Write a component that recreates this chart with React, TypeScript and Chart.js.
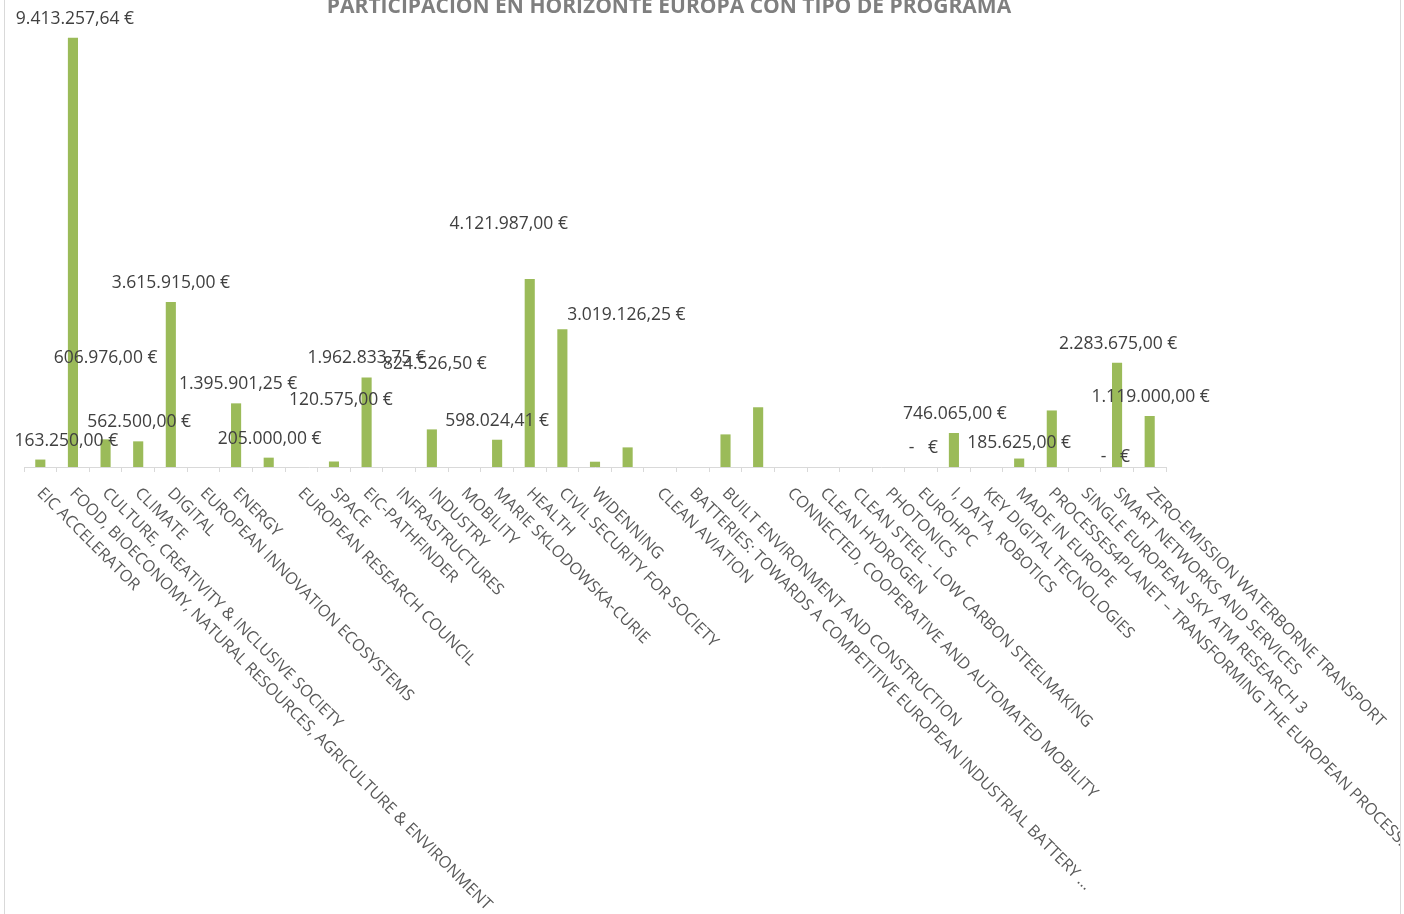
import React, { useEffect, useRef } from "react";
import { Chart, registerables } from "chart.js";
Chart.register(...registerables);

const TITLE = "PARTICIPACIÓN EN HORIZONTE EUROPA CON TIPO DE PROGRAMA";

const categories: string[] = [
  "EIC ACCELERATOR",
  "FOOD, BIOECONOMY, NATURAL RESOURCES, AGRICULTURE & ENVIRONMENT",
  "CULTURE, CREATIVITY & INCLUSIVE SOCIETY",
  "CLIMATE",
  "DIGITAL",
  "EUROPEAN INNOVATION ECOSYSTEMS",
  "ENERGY",
  "",
  "EUROPEAN RESEARCH COUNCIL",
  "SPACE",
  "EIC-PATHFINDER",
  "INFRASTRUCTURES",
  "INDUSTRY",
  "MOBILITY",
  "MARIE SKLODOWSKA-CURIE",
  "HEALTH",
  "CIVIL SECURITY FOR SOCIETY",
  "WIDENNING",
  "",
  "CLEAN AVIATION",
  "BATTERIES: TOWARDS A COMPETITIVE EUROPEAN INDUSTRIAL BATTERY ...",
  "BUILT ENVIRONMENT AND CONSTRUCTION",
  "",
  "CONNECTED, COOPERATIVE AND AUTOMATED MOBILITY",
  "CLEAN HYDROGEN",
  "CLEAN STEEL - LOW CARBON STEELMAKING",
  "PHOTONICS",
  "EUROHPC",
  "I, DATA, ROBOTICS",
  "KEY DIGITAL TECNOLOGIES",
  "MADE IN EUROPE",
  "PROCESSES4PLANET – TRANSFORMING THE EUROPEAN PROCESS...",
  "SINGLE EUROPEAN SKY ATM RESEARCH 3",
  "SMART NETWORKS AND SERVICES",
  "ZERO-EMISSION WATERBORNE TRANSPORT",
];

const amounts: number[] = [
  163250, 9413257.64, 606976, 562500, 3615915, 0, 1395901.25, 205000, 0, 120575,
  1962833.75, 0, 824526.5, 0, 598024.41, 4121987, 3019126.25, 116000, 430000, 0,
  0, 715000, 1310000, 0, 0, 0, 0, 0, 746065, 0,
  185625, 1240000, 0, 2283675, 1119000,
];

// which bars carry a value label, and how far (px) the label was dragged from its default spot
const labelNudges: Record<number, [number, number]> = {
  0: [26, 0], 1: [2, 0], 2: [0, -62], 3: [1, 0], 4: [0, 0], 6: [2, 0], 7: [1, 0],
  9: [7, -42], 10: [0, 0], 12: [3, -46], 14: [0, 0], 15: [-21, -36], 16: [64, 5],
  27: [2, 0], 28: [1, 0], 30: [0, 3], 32: [31, 9], 33: [1, 0], 34: [1, 0],
};

const Y_MAX = 10000000;

function formatEuro(v: number): string {
  if (v === 0) return "-   €";
  const fixed = v.toFixed(2);
  const [intPart, dec] = fixed.split(".");
  const grouped = intPart.replace(/\B(?=(\d{3})+(?!\d))/g, ".");
  return grouped + "," + dec + " €";
}

const FONT = '"Open Sans", "Noto Sans", sans-serif';

const decorPlugin = {
  id: "decor",
  beforeDraw(chart: any) {
    const ctx = chart.ctx as CanvasRenderingContext2D;
    ctx.save();
    ctx.fillStyle = "#ffffff";
    ctx.fillRect(0, 0, chart.width, chart.height);
    ctx.strokeStyle = "#d9d9d9";
    ctx.lineWidth = 1;
    ctx.beginPath();
    ctx.moveTo(4.5, 0);
    ctx.lineTo(4.5, chart.height);
    ctx.moveTo(1400.5, 0);
    ctx.lineTo(1400.5, chart.height);
    ctx.stroke();
    ctx.restore();
  },
  afterDraw(chart: any) {
    const ctx = chart.ctx as CanvasRenderingContext2D;
    const xScale = chart.scales.x;
    const area = chart.chartArea;
    ctx.save();
    ctx.beginPath();
    ctx.rect(5, 0, 1395, chart.height);
    ctx.clip();

    // title (cut at the top of the frame, as in the source)
    ctx.fillStyle = "#7f7f7f";
    ctx.font = `bold 21px ${FONT}`;
    ctx.textAlign = "center";
    ctx.textBaseline = "alphabetic";
    ctx.fillText(TITLE, 669, 13);

    // category labels, rotated 45° going down-right
    ctx.fillStyle = "#595959";
    ctx.font = `16.3px ${FONT}`;
    ctx.textAlign = "left";
    ctx.textBaseline = "alphabetic";
    categories.forEach((c, i) => {
      if (!c) return;
      const x = xScale.getPixelForTick(i);
      ctx.save();
      ctx.translate(x - 4, area.bottom + 27);
      ctx.rotate(Math.PI / 4);
      ctx.fillText(c, 0, 0);
      ctx.restore();
    });

    // value labels
    const meta = chart.getDatasetMeta(0);
    ctx.fillStyle = "#404040";
    ctx.font = `17.5px ${FONT}`;
    ctx.textAlign = "center";
    ctx.textBaseline = "middle";
    meta.data.forEach((bar: any, i: number) => {
      const nudge = labelNudges[i];
      if (!nudge) return;
      ctx.fillText(formatEuro(amounts[i]), bar.x + nudge[0], bar.y - 19 + nudge[1]);
    });
    ctx.restore();
  },
};

export default function App() {
  const ref = useRef<HTMLCanvasElement | null>(null);
  useEffect(() => {
    document.body.style.margin = "0";
    if (!ref.current) return;
    const chart = new Chart(ref.current, {
      type: "bar",
      data: {
        labels: categories,
        datasets: [
          {
            data: amounts,
            backgroundColor: "#9bbb59",
            borderWidth: 0,
            barPercentage: 0.31,
            categoryPercentage: 1,
          },
        ],
      },
      options: {
        animation: false,
        responsive: false,
        layout: { padding: { left: 24, right: 238, top: 11, bottom: 442 } },
        plugins: {
          legend: { display: false },
          tooltip: { enabled: false },
          title: { display: false },
        },
        scales: {
          x: {
            grid: {
              offset: true,
              drawOnChartArea: false,
              drawTicks: true,
              tickLength: 5,
              color: "#d9d9d9",
            },
            border: { color: "#d9d9d9", width: 1 },
            ticks: { display: false },
          },
          y: {
            display: false,
            min: 0,
            max: Y_MAX,
          },
        },
      },
      plugins: [decorPlugin],
    });
    return () => chart.destroy();
  }, []);
  return (
    <div style={{ position: "fixed", left: 0, top: 0, width: 1404, height: 914 }}>
      <canvas ref={ref} width={1404} height={914} style={{ width: 1404, height: 914 }} />
    </div>
  );
}
